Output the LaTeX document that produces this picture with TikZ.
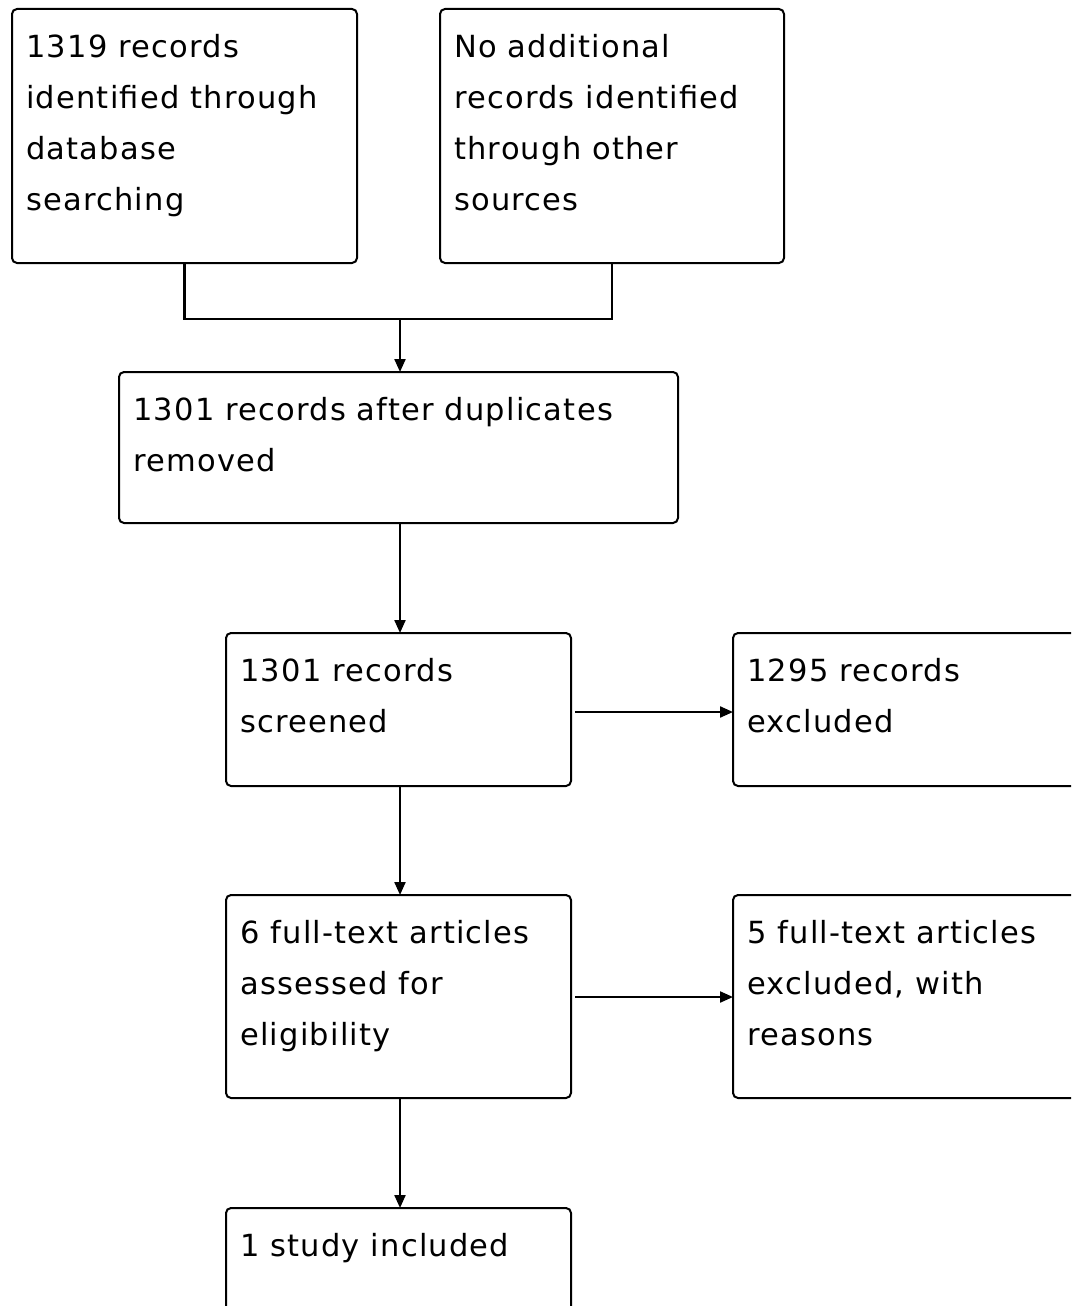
\documentclass[tikz,border=0pt]{standalone}
\usepackage{fontspec}
\setmainfont{DejaVu Sans}[LetterSpace=4]
\usetikzlibrary{arrows.meta}
\tikzset{
  box/.style={rectangle, rounded corners=5pt,
    draw=black, line width=2pt, inner sep=0pt, outer sep=0pt, anchor=north west, fill=white},
  txt/.style={anchor=north west, inner sep=0pt, align=left, font=\fontsize{30.5}{51}\selectfont, text=black},
  conn/.style={line width=2.2pt, draw=black},
  arr/.style={conn, -{Triangle[length=13pt,width=11pt]}}
}
\newcommand{\tstrut}{\rule{0pt}{25pt}}
\begin{document}
\begin{tikzpicture}[x=1pt,y=-1pt]
\useasboundingbox (0,0) rectangle (1071,1306);
\clip (0,0) rectangle (1071,1306);
\fill[white] (0,0) rectangle (1071,1306);
% boxes
\node[box, minimum width=345pt, minimum height=254pt] (A) at (12,9) {};
\node[box, minimum width=344pt, minimum height=254pt] (B) at (440,9) {};
\node[box, minimum width=559pt, minimum height=151pt] (C) at (119,372) {};
\node[box, minimum width=345pt, minimum height=153pt] (D) at (226,633) {};
\node[box, minimum width=380pt, minimum height=153pt] (E) at (733,633) {};
\node[box, minimum width=345pt, minimum height=203pt] (F) at (226,895) {};
\node[box, minimum width=380pt, minimum height=203pt] (G) at (733,895) {};
\node[box, minimum width=345pt, minimum height=150pt] (H) at (226,1208) {};
% texts
\node[txt] (tA) at (26,32) {\tstrut 1319 records\\identified through\\database\\searching};
\node[txt] (tB) at (454,32) {\tstrut No additional\\records identified\\through other\\sources};
\node[txt] (tC) at (133,395) {\tstrut 1301 records after duplicates\\removed};
\node[txt] (tD) at (240,656) {\tstrut 1301 records\\screened};
\node[txt] (tE) at (747,656) {\tstrut 1295 records\\excluded};
\node[txt] (tF) at (240,918) {\tstrut 6 full-text articles\\assessed for\\eligibility};
\node[txt] (tG) at (747,918) {\tstrut 5 full-text articles\\excluded, with\\reasons};
\node[txt] (tH) at (240,1231) {\tstrut 1 study included};
% connectors
\coordinate (j) at (400,319);
\draw[conn] (A.south) |- (j) -| (B.south);
\draw[arr] (j) -- (j |- C.north);
\draw[arr] (C.south -| j) -- (j |- D.north);
\draw[arr] (D.south -| j) -- (j |- F.north);
\draw[arr] (F.south -| j) -- (j |- H.north);
\draw[arr, shorten <=4pt] (D.east |- 0,712) -- (E.west |- 0,712);
\draw[arr, shorten <=4pt] (F.east |- 0,997) -- (G.west |- 0,997);
\end{tikzpicture}
\end{document}
